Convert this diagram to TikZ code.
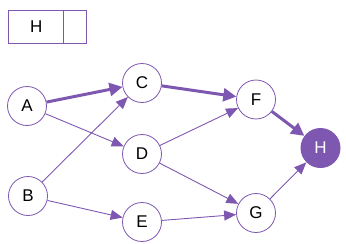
\documentclass[tikz,border=0pt]{standalone}
\usepackage{fontspec}
\setmainfont{Liberation Sans}
\usetikzlibrary{arrows.meta}
\definecolor{pur}{RGB}{126,87,176}
\begin{document}
\begin{tikzpicture}[x=1pt,y=-1pt,
  nd/.style={circle,draw=pur,line width=0.8pt,fill=white,minimum size=39pt,inner sep=0pt,font=\fontsize{17}{17}\selectfont},
  hd/.style={circle,fill=pur,minimum size=40pt,inner sep=0pt,text=white,font=\fontsize{17}{17}\selectfont},
  thin edge/.style={draw=pur,line width=0.9pt,-{Triangle[length=12pt,width=10pt]}},
  thick edge/.style={draw=pur,line width=3pt,-{Triangle[length=13pt,width=13pt]}}]
\useasboundingbox (0,0) rectangle (346,244);
\node[draw=pur,line width=0.8pt,minimum width=55pt,minimum height=33pt,inner sep=0pt,anchor=north west,font=\fontsize{17}{17}\selectfont] (box) at (8.3,10) {H};
\node[draw=pur,line width=0.8pt,minimum width=22.4pt,minimum height=33pt,inner sep=0pt,anchor=north west] (boxr) at (63.3,10) {};
\node[nd] (A) at (27,106) {A};
\node[nd] (B) at (28,196) {B};
\node[nd] (C) at (142,83) {C};
\node[nd] (D) at (142,154) {D};
\node[nd] (E) at (142,222) {E};
\node[nd] (F) at (256,99.5) {F};
\node[nd] (G) at (256,213) {G};
\node[hd] (H) at (320.5,148) {H};
\draw[thick edge] (A) -- (C);
\draw[thin edge] (A) -- (D);
\draw[thin edge] (B) -- (C);
\draw[thin edge] (B) -- (E);
\draw[thick edge] (C) -- (F);
\draw[thin edge] (D) -- (F);
\draw[thin edge] (D) -- (G);
\draw[thin edge] (E) -- (G);
\draw[thick edge] (F) -- (H);
\draw[thin edge] (G) -- (H);
\end{tikzpicture}
\end{document}
